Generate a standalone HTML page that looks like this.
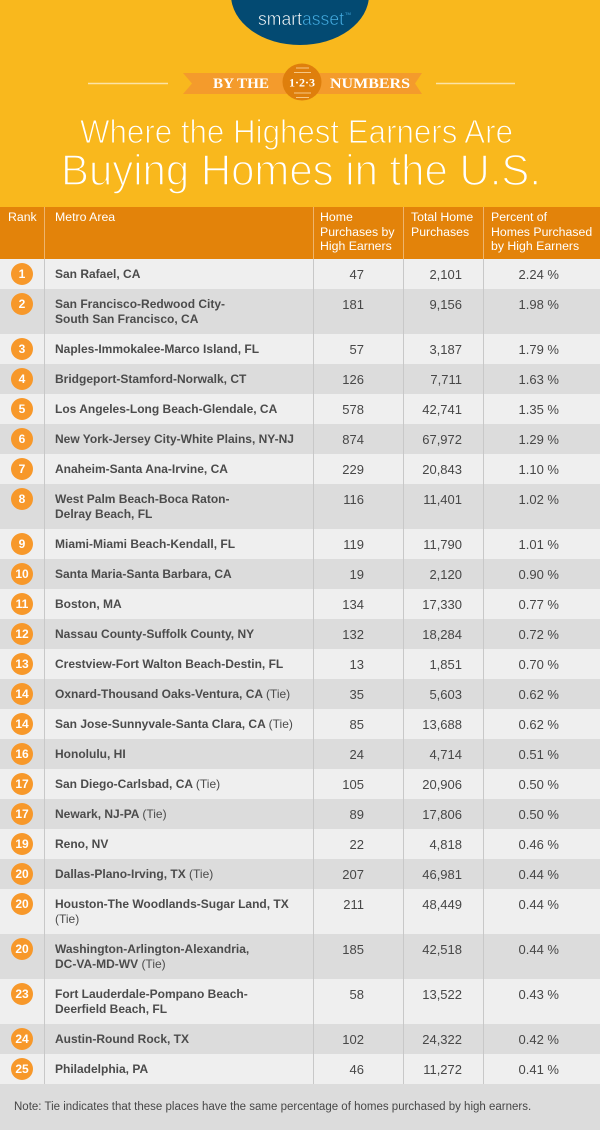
<!DOCTYPE html>
<html>
<head>
<meta charset="utf-8">
<style>
*{margin:0;padding:0;box-sizing:border-box;}
html,body{width:600px;height:1130px;overflow:hidden;background:#dcdcdc;}
body{position:relative;font-family:"Liberation Sans",Arial,sans-serif;}
#top{position:absolute;left:0;top:0;width:600px;height:207px;background:#F9B81D;}
#hdr{position:absolute;left:0;top:207px;width:600px;height:52px;background:#E3830A;color:#fff;font-size:12.3px;line-height:14.5px;}
#hdr div{position:absolute;top:3px;white-space:nowrap;}
.hl{position:absolute;top:0;width:1px;height:52px;background:rgba(255,255,255,0.4);}
#rows{position:absolute;left:0;top:259px;width:600px;}
.r{position:relative;width:600px;height:30px;background:#efefef;}
.r.d{background:#dcdcdc;}
.r.t{height:45px;}
.c{position:absolute;left:11px;top:4px;width:22px;height:22px;border-radius:50%;background:#F7982A;color:#fff;font-weight:bold;font-size:12px;line-height:22px;text-align:center;}
.m{position:absolute;left:55px;top:7.5px;font-size:12px;line-height:15px;font-weight:bold;color:#4b4b4b;white-space:nowrap;}
.m span{font-weight:normal;}
.v{position:absolute;top:7.5px;font-size:13px;line-height:15px;color:#474747;white-space:nowrap;text-align:right;}
.v1{right:236px;}
.v2{right:138px;}
.v3{right:41px;}
.vl{position:absolute;top:259px;width:1px;height:825px;background:#c8c8c8;}
#foot{position:absolute;left:0;top:1084px;width:600px;height:46px;background:#dcdcdc;}
#foot div{position:absolute;left:14px;top:16px;font-size:11.5px;line-height:14px;color:#474747;white-space:nowrap;}
</style>
</head>
<body>
<div id="top">
<svg width="600" height="207" viewBox="0 0 600 207" xmlns="http://www.w3.org/2000/svg">
  <ellipse cx="300" cy="-5" rx="69" ry="50" fill="#034A72"/>
  <text x="258" y="25" font-family="Liberation Sans, sans-serif" font-size="18" textLength="86" lengthAdjust="spacingAndGlyphs" stroke="#034A72" stroke-width="0.5"><tspan fill="#ffffff">smart</tspan><tspan fill="#46AEE3">asset</tspan></text>
  <text x="345" y="15" font-family="Liberation Sans, sans-serif" font-size="4" fill="#46AEE3">TM</text>
  <line x1="88" y1="83.5" x2="168" y2="83.5" stroke="#FCE3A6" stroke-width="1.5"/>
  <line x1="436" y1="83.5" x2="515" y2="83.5" stroke="#FCE3A6" stroke-width="1.5"/>
  <polygon points="183,73 422,73 415,83.5 422,94 183,94 192,83.5" fill="#F49B2C"/>
  <ellipse cx="302" cy="82" rx="19.5" ry="18.5" fill="#DF7F0C"/>
  <line x1="296" y1="68" x2="309" y2="68" stroke="#F7C784" stroke-width="1"/>
  <line x1="294" y1="72.5" x2="311" y2="72.5" stroke="#F7C784" stroke-width="1"/>
  <line x1="294" y1="93" x2="311" y2="93" stroke="#F7C784" stroke-width="1"/>
  <line x1="296" y1="97.5" x2="309" y2="97.5" stroke="#F7C784" stroke-width="1"/>
  <text x="302" y="86.5" text-anchor="middle" font-family="Liberation Serif, serif" font-weight="bold" font-size="12" fill="#ffffff">1·2·3</text>
  <text x="213" y="88" font-family="Liberation Serif, serif" font-weight="bold" font-size="15" fill="#ffffff" textLength="56" lengthAdjust="spacingAndGlyphs">BY THE</text>
  <text x="330" y="88" font-family="Liberation Serif, serif" font-weight="bold" font-size="15" fill="#ffffff" textLength="80" lengthAdjust="spacingAndGlyphs">NUMBERS</text>
  <text x="80" y="143" font-family="Liberation Sans, sans-serif" font-size="33" fill="#ffffff" stroke="#F9B81D" stroke-width="1.1" textLength="433" lengthAdjust="spacingAndGlyphs">Where the Highest Earners Are</text>
  <text x="61" y="185" font-family="Liberation Sans, sans-serif" font-size="44" fill="#ffffff" stroke="#F9B81D" stroke-width="1.5" textLength="480" lengthAdjust="spacingAndGlyphs">Buying Homes in the U.S.</text>
</svg>
</div>

<div id="hdr">
  <div style="left:8px;">Rank</div>
  <div style="left:55px;">Metro Area</div>
  <div style="left:320px;">Home<br>Purchases by<br>High Earners</div>
  <div style="left:411px;">Total Home<br>Purchases</div>
  <div style="left:491px;">Percent of<br>Homes Purchased<br>by High Earners</div>
  <span class="hl" style="left:44px;"></span>
  <span class="hl" style="left:313px;"></span>
  <span class="hl" style="left:403px;"></span>
  <span class="hl" style="left:483px;"></span>
</div>

<div id="rows">
  <div class="r"><div class="c">1</div><div class="m">San Rafael, CA</div><div class="v v1">47</div><div class="v v2">2,101</div><div class="v v3">2.24 %</div></div>
  <div class="r d t"><div class="c">2</div><div class="m">San Francisco-Redwood City-<br>South San Francisco, CA</div><div class="v v1">181</div><div class="v v2">9,156</div><div class="v v3">1.98 %</div></div>
  <div class="r"><div class="c">3</div><div class="m">Naples-Immokalee-Marco Island, FL</div><div class="v v1">57</div><div class="v v2">3,187</div><div class="v v3">1.79 %</div></div>
  <div class="r d"><div class="c">4</div><div class="m">Bridgeport-Stamford-Norwalk, CT</div><div class="v v1">126</div><div class="v v2">7,711</div><div class="v v3">1.63 %</div></div>
  <div class="r"><div class="c">5</div><div class="m">Los Angeles-Long Beach-Glendale, CA</div><div class="v v1">578</div><div class="v v2">42,741</div><div class="v v3">1.35 %</div></div>
  <div class="r d"><div class="c">6</div><div class="m">New York-Jersey City-White Plains, NY-NJ</div><div class="v v1">874</div><div class="v v2">67,972</div><div class="v v3">1.29 %</div></div>
  <div class="r"><div class="c">7</div><div class="m">Anaheim-Santa Ana-Irvine, CA</div><div class="v v1">229</div><div class="v v2">20,843</div><div class="v v3">1.10 %</div></div>
  <div class="r d t"><div class="c">8</div><div class="m">West Palm Beach-Boca Raton-<br>Delray Beach, FL</div><div class="v v1">116</div><div class="v v2">11,401</div><div class="v v3">1.02 %</div></div>
  <div class="r"><div class="c">9</div><div class="m">Miami-Miami Beach-Kendall, FL</div><div class="v v1">119</div><div class="v v2">11,790</div><div class="v v3">1.01 %</div></div>
  <div class="r d"><div class="c">10</div><div class="m">Santa Maria-Santa Barbara, CA</div><div class="v v1">19</div><div class="v v2">2,120</div><div class="v v3">0.90 %</div></div>
  <div class="r"><div class="c">11</div><div class="m">Boston, MA</div><div class="v v1">134</div><div class="v v2">17,330</div><div class="v v3">0.77 %</div></div>
  <div class="r d"><div class="c">12</div><div class="m">Nassau County-Suffolk County, NY</div><div class="v v1">132</div><div class="v v2">18,284</div><div class="v v3">0.72 %</div></div>
  <div class="r"><div class="c">13</div><div class="m">Crestview-Fort Walton Beach-Destin, FL</div><div class="v v1">13</div><div class="v v2">1,851</div><div class="v v3">0.70 %</div></div>
  <div class="r d"><div class="c">14</div><div class="m">Oxnard-Thousand Oaks-Ventura, CA <span>(Tie)</span></div><div class="v v1">35</div><div class="v v2">5,603</div><div class="v v3">0.62 %</div></div>
  <div class="r"><div class="c">14</div><div class="m">San Jose-Sunnyvale-Santa Clara, CA <span>(Tie)</span></div><div class="v v1">85</div><div class="v v2">13,688</div><div class="v v3">0.62 %</div></div>
  <div class="r d"><div class="c">16</div><div class="m">Honolulu, HI</div><div class="v v1">24</div><div class="v v2">4,714</div><div class="v v3">0.51 %</div></div>
  <div class="r"><div class="c">17</div><div class="m">San Diego-Carlsbad, CA <span>(Tie)</span></div><div class="v v1">105</div><div class="v v2">20,906</div><div class="v v3">0.50 %</div></div>
  <div class="r d"><div class="c">17</div><div class="m">Newark, NJ-PA <span>(Tie)</span></div><div class="v v1">89</div><div class="v v2">17,806</div><div class="v v3">0.50 %</div></div>
  <div class="r"><div class="c">19</div><div class="m">Reno, NV</div><div class="v v1">22</div><div class="v v2">4,818</div><div class="v v3">0.46 %</div></div>
  <div class="r d"><div class="c">20</div><div class="m">Dallas-Plano-Irving, TX <span>(Tie)</span></div><div class="v v1">207</div><div class="v v2">46,981</div><div class="v v3">0.44 %</div></div>
  <div class="r t"><div class="c">20</div><div class="m">Houston-The Woodlands-Sugar Land, TX<br><span>(Tie)</span></div><div class="v v1">211</div><div class="v v2">48,449</div><div class="v v3">0.44 %</div></div>
  <div class="r d t"><div class="c">20</div><div class="m">Washington-Arlington-Alexandria,<br>DC-VA-MD-WV <span>(Tie)</span></div><div class="v v1">185</div><div class="v v2">42,518</div><div class="v v3">0.44 %</div></div>
  <div class="r t"><div class="c">23</div><div class="m">Fort Lauderdale-Pompano Beach-<br>Deerfield Beach, FL</div><div class="v v1">58</div><div class="v v2">13,522</div><div class="v v3">0.43 %</div></div>
  <div class="r d"><div class="c">24</div><div class="m">Austin-Round Rock, TX</div><div class="v v1">102</div><div class="v v2">24,322</div><div class="v v3">0.42 %</div></div>
  <div class="r"><div class="c">25</div><div class="m">Philadelphia, PA</div><div class="v v1">46</div><div class="v v2">11,272</div><div class="v v3">0.41 %</div></div>
</div>

<span class="vl" style="left:44px;"></span>
<span class="vl" style="left:313px;"></span>
<span class="vl" style="left:403px;"></span>
<span class="vl" style="left:483px;"></span>

<div id="foot"><div>Note: Tie indicates that these places have the same percentage of homes purchased by high earners.</div></div>
</body>
</html>
